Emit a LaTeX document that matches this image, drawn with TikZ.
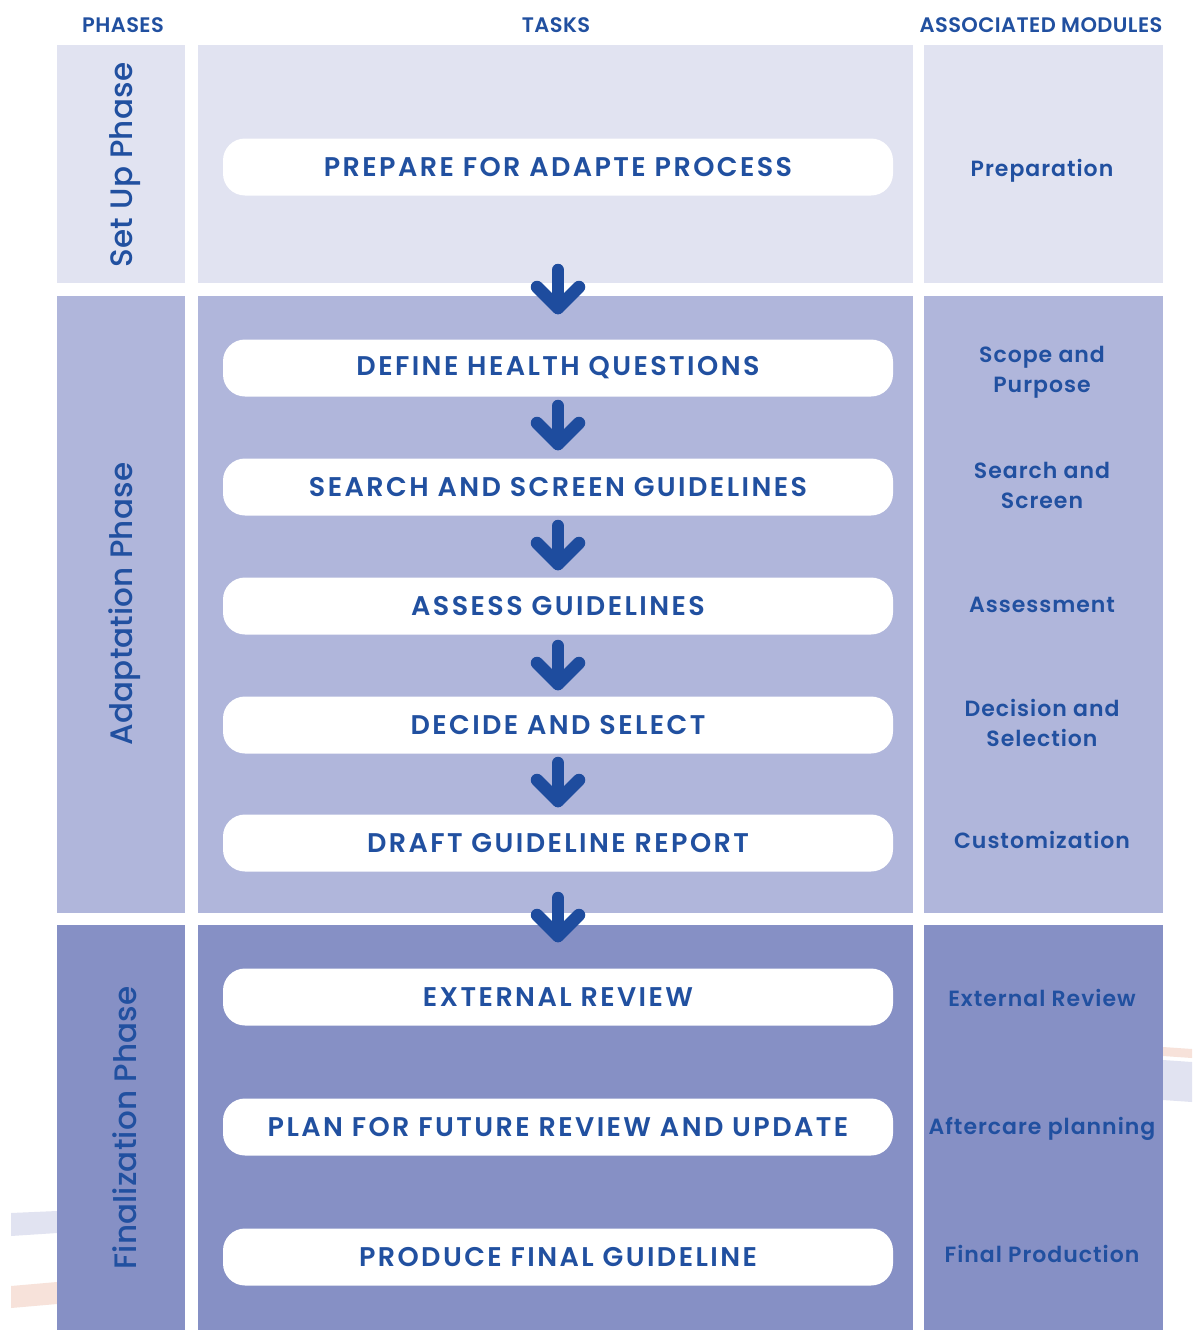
\documentclass[tikz,border=0pt]{standalone}
\usepackage{fontspec}
\setmainfont{Poppins}
\newfontfamily\taskfont{Poppins SemiBold}[LetterSpace=9]
\newfontfamily\modfont{Poppins SemiBold}[LetterSpace=4.5]
\newfontfamily\headfont{Poppins SemiBold}[LetterSpace=2]
\newfontfamily\phasefont{Poppins Medium}[LetterSpace=0.5]
\definecolor{txtblue}{HTML}{2150A0}
\definecolor{arrblue}{HTML}{1E4C9E}
\definecolor{setupbg}{HTML}{E1E3F1}
\definecolor{adaptbg}{HTML}{B0B6DB}
\definecolor{finalbg}{HTML}{8690C5}
\definecolor{faintor}{HTML}{F7E2DA}
\begin{document}
\begin{tikzpicture}[x=1pt,y=1pt,
  header/.style={text=txtblue,font=\headfont\fontsize{21}{24}\selectfont},
  taskbox/.style={fill=white,rounded corners=22pt,minimum width=670pt,minimum height=57pt,
     text=txtblue,font=\taskfont\fontsize{27}{30}\selectfont,inner sep=0pt},
  modtext/.style={text=txtblue,font=\modfont\fontsize{22}{30}\selectfont,align=center},
  phasetext/.style={text=txtblue,font=\phasefont\fontsize{31}{34}\selectfont,rotate=90},
  arrowline/.style={draw=arrblue,line width=12.5pt,line cap=round,line join=round},
  dnarrow/.pic={\draw[arrowline] (0,19) -- (0,-19); \draw[arrowline] (-21,2) -- (0,-19) -- (21,2);}
]
\useasboundingbox (0,0) rectangle (1192,-1330);
\fill[white] (0,0) rectangle (1192,-1330);
% faint background strips
\fill[setupbg] (11,-1213) -- (57,-1211) -- (57,-1233) -- (11,-1236) -- cycle;
\fill[faintor] (11,-1286) -- (57,-1282) -- (57,-1304) -- (11,-1308) -- cycle;
\fill[faintor] (1163,-1047) -- (1192,-1049) -- (1192,-1058) -- (1163,-1056) -- cycle;
\fill[setupbg] (1163,-1060) -- (1192,-1062) -- (1192,-1102) -- (1163,-1100) -- cycle;
% headers
\node[header] (hph) at (123,-25) {PHASES};
\node[header] (hta) at (556,-25) {TASKS};
\node[header] (hmo) at (1041,-25) {ASSOCIATED MODULES};
% column blocks
\fill[setupbg] (57,-45) rectangle (185,-283);
\fill[setupbg] (198,-45) rectangle (913,-283);
\fill[setupbg] (924,-45) rectangle (1163,-283);
\fill[adaptbg] (57,-296) rectangle (185,-913);
\fill[adaptbg] (198,-296) rectangle (913,-913);
\fill[adaptbg] (924,-296) rectangle (1163,-913);
\fill[finalbg] (57,-925) rectangle (185,-1330);
\fill[finalbg] (198,-925) rectangle (913,-1330);
\fill[finalbg] (924,-925) rectangle (1163,-1330);
% phase labels
\node[phasetext] (p1) at (125,-165) {Set Up Phase};
\node[phasetext] (p2) at (125,-604) {Adaptation Phase};
\node[phasetext] (p3) at (125,-1128) {Finalization Phase};
% tasks
\node[taskbox] (t1) at (558,-167) {PREPARE FOR ADAPTE PROCESS};
\node[taskbox] (t2) at (558,-368) {DEFINE HEALTH QUESTIONS};
\node[taskbox] (t3) at (558,-487) {SEARCH AND SCREEN GUIDELINES};
\node[taskbox] (t4) at (558,-606) {ASSESS GUIDELINES};
\node[taskbox] (t5) at (558,-725) {DECIDE AND SELECT};
\node[taskbox] (t6) at (558,-843) {DRAFT GUIDELINE REPORT};
\node[taskbox] (t7) at (558,-997) {EXTERNAL REVIEW};
\node[taskbox] (t8) at (558,-1127) {PLAN FOR FUTURE REVIEW AND UPDATE};
\node[taskbox] (t9) at (558,-1257) {PRODUCE FINAL GUIDELINE};
% modules
\node[modtext] (m1) at (1042,-171) {Preparation};
\node[modtext] (m2) at (1042,-372) {Scope and\\Purpose};
\node[modtext] (m3) at (1042,-485) {Search and\\Screen};
\node[modtext] (m4) at (1042,-605) {Assessment};
\node[modtext] (m5) at (1042,-723) {Decision and\\Selection};
\node[modtext] (m6) at (1042,-840) {Customization};
\node[modtext] (m7) at (1042,-998) {External Review};
\node[modtext] (m8) at (1042,-1129) {Aftercare planning};
\node[modtext] (m9) at (1042,-1254) {Final Production};
% arrows
\coordinate (a1) at (558,-289);
\coordinate (a2) at (558,-425);
\coordinate (a3) at (558,-545);
\coordinate (a4) at (558,-665);
\coordinate (a5) at (558,-782);
\coordinate (a6) at (558,-917);
\foreach \a in {a1,a2,a3,a4,a5,a6} { \pic at (\a) {dnarrow}; }
\end{tikzpicture}
\end{document}
